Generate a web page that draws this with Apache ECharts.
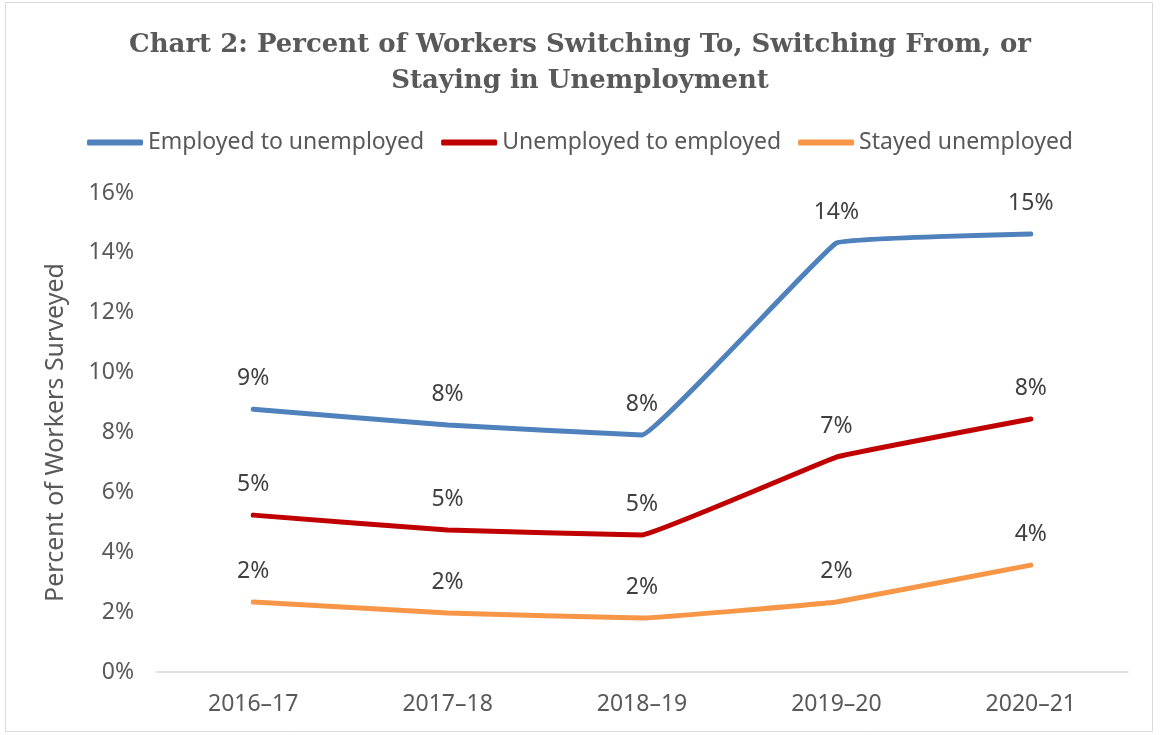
<!DOCTYPE html>
<html><head><meta charset="utf-8">
<script src="https://cdn.jsdelivr.net/npm/echarts@6/dist/echarts.min.js"></script>
<style>html,body{margin:0;padding:0;background:#fff}#c{width:1160px;height:735px}</style>
</head><body><div id="c"></div>
<script>
const categories = ['2016–17','2017–18','2018–19','2019–20','2020–21'];
const empToUnemp = [8.78, 8.25, 7.92, 14.33, 14.63];
const unempToEmp = [5.24, 4.74, 4.58, 7.18, 8.45];
const stayedUnemp = [2.34, 1.97, 1.80, 2.34, 3.57];
const yTicks = [0,2,4,6,8,10,12,14,16];

const chart = echarts.init(document.getElementById('c'));
const lbl = {show:true, position:'top', distance:19, fontSize:23, color:'#404040', fontFamily:'Noto Sans',
  formatter: p => Math.round(p.value) + '%'};
function s(name, data, color){
  return {name, type:'line', data, smooth:0.06, symbol:'circle', symbolSize:0.1, showSymbol:true,
    lineStyle:{width:5, color, cap:'round', join:'round'}, itemStyle:{color}, label:lbl, labelLayout:{hideOverlap:false}};
}
chart.setOption({
  animation:false,
  title:{text:'Chart 2: Percent of Workers Switching To, Switching From, or\nStaying in Unemployment',
    left:'center', top:22, textStyle:{fontFamily:'DejaVu Serif', fontWeight:'bold', fontSize:26, color:'#595959', lineHeight:36}},
  legend:{top:126, left:'center', itemWidth:56, itemHeight:6, itemGap:17, icon:'roundRect',
    textStyle:{fontSize:23, color:'#595959', fontFamily:'Noto Sans', padding:[0,0,0,0]}},
  graphic:[{type:'rect', shape:{x:5.5, y:2.5, width:1147, height:729}, style:{fill:'none', stroke:'#d9d9d9', lineWidth:1}, silent:true}],
  grid:{left:156, right:32, top:193, bottom:63},
  xAxis:{type:'category', data:categories, boundaryGap:true,
    axisLine:{lineStyle:{color:'#d9d9d9', width:1.5}}, axisTick:{show:false},
    axisLabel:{fontSize:23, color:'#595959', margin:21, fontFamily:'Noto Sans'}},
  yAxis:{type:'value', min:yTicks[0], max:yTicks[yTicks.length-1], interval:2,
    name:'Percent of Workers Surveyed', nameLocation:'middle', nameGap:88, nameRotate:90,
    nameTextStyle:{fontSize:25, color:'#595959', fontFamily:'Noto Sans'},
    axisLine:{show:false}, axisTick:{show:false}, splitLine:{show:false},
    axisLabel:{fontSize:23, color:'#595959', margin:22, fontFamily:'Noto Sans', formatter:v=>v+'%'}},
  series:[
    s('Employed to unemployed', empToUnemp, '#4F81BD'),
    s('Unemployed to employed', unempToEmp, '#C00000'),
    s('Stayed unemployed', stayedUnemp, '#F79646')
  ]
});
</script></body></html>
